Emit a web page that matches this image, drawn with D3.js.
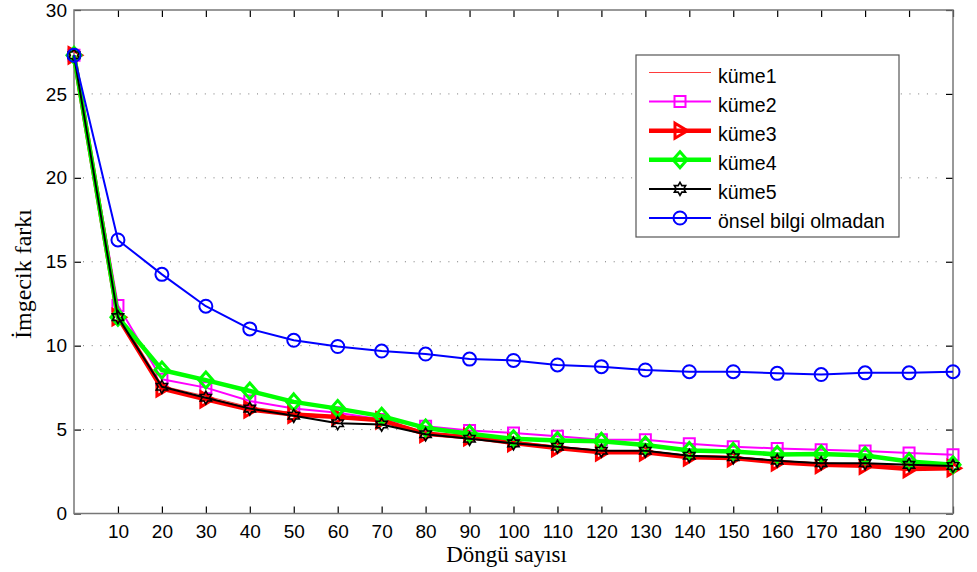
<!DOCTYPE html>
<html>
<head>
<meta charset="utf-8">
<script src="https://cdn.jsdelivr.net/npm/d3@7"></script>
<style>
  body { margin: 0; background: #fff; }
</style>
</head>
<body>
<div id="chart"></div>
<script>
const iterations = [0, 10, 20, 30, 40, 50, 60, 70, 80, 90, 100, 110, 120, 130, 140, 150, 160, 170, 180, 190, 200];
const xTicks = [10, 20, 30, 40, 50, 60, 70, 80, 90, 100, 110, 120, 130, 140, 150, 160, 170, 180, 190, 200];
const yTicks = [0, 5, 10, 15, 20, 25, 30];

const kume1 = [27.3, 11.8, 7.6, 7.0, 6.35, 6.0, 5.8, 5.6, 4.85, 4.6, 4.3, 4.0, 3.75, 3.75, 3.45, 3.4, 3.15, 3.0, 2.95, 2.8, 2.8];
const kume2 = [27.3, 12.4, 8.0, 7.5, 6.7, 6.25, 6.0, 5.6, 5.2, 4.95, 4.8, 4.6, 4.4, 4.4, 4.15, 3.98, 3.88, 3.8, 3.72, 3.6, 3.5];
const kume3 = [27.3, 11.7, 7.45, 6.8, 6.2, 5.9, 5.75, 5.55, 4.75, 4.55, 4.2, 3.9, 3.65, 3.65, 3.35, 3.3, 3.05, 2.9, 2.85, 2.65, 2.7];
const kume4 = [27.3, 11.7, 8.55, 7.95, 7.3, 6.65, 6.25, 5.8, 5.1, 4.75, 4.45, 4.35, 4.3, 4.08, 3.75, 3.7, 3.52, 3.55, 3.45, 3.1, 2.9];
const kume5 = [27.3, 11.7, 7.55, 6.9, 6.25, 5.82, 5.38, 5.3, 4.72, 4.45, 4.18, 3.98, 3.74, 3.74, 3.44, 3.35, 3.15, 3.0, 3.0, 2.9, 2.83];
const onselsiz = [27.3, 16.3, 14.25, 12.35, 11.0, 10.32, 9.95, 9.68, 9.5, 9.2, 9.12, 8.85, 8.75, 8.55, 8.45, 8.45, 8.35, 8.28, 8.38, 8.38, 8.45];

const seriesNames = ["küme1", "küme2", "küme3", "küme4", "küme5", "önsel bilgi olmadan"];
const seriesValues = [kume1, kume2, kume3, kume4, kume5, onselsiz];

// marker shapes, centred on 0,0
function hexagram(R) {
  const pts = [];
  for (let k = 0; k < 12; k++) {
    const r = k % 2 === 0 ? R : R / Math.sqrt(3);
    const a = -Math.PI / 2 + k * Math.PI / 6;
    pts.push([r * Math.cos(a), r * Math.sin(a)]);
  }
  return "M" + pts.map(p => p.join(",")).join("L") + "Z";
}
const markers = {
  none: null,
  square: "M-5.5,-5.5L5.5,-5.5L5.5,5.5L-5.5,5.5Z",
  triangle: "M-5,-7.5L7.5,0L-5,7.5Z",
  diamond: "M0,-8L7,0L0,8L-7,0Z",
  hexagram: hexagram(6.5),
  circle: "M6.5,0A6.5,6.5 0 1,1 -6.5,0A6.5,6.5 0 1,1 6.5,0Z"
};

const styles = [
  { color: "#ff3b3b", width: 1, marker: "none", mWidth: 1 },
  { color: "#ff00ff", width: 2, marker: "square", mWidth: 2 },
  { color: "#ff0000", width: 4.5, marker: "triangle", mWidth: 3 },
  { color: "#00ff00", width: 4.5, marker: "diamond", mWidth: 3 },
  { color: "#000000", width: 2, marker: "hexagram", mWidth: 1.6 },
  { color: "#0000ff", width: 2, marker: "circle", mWidth: 2 }
];

function MatlabPlot(id, {
  width = 977,
  height = 572,
  left = 74,
  right = 953,
  top = 10,
  bottom = 513.5,
  tickLen = 7,
  frameColor = "#777"
} = {}) {
  const xScale = d3.scaleLinear([0, 200], [left, right]);
  const yScale = d3.scaleLinear([0, 30], [bottom, top]);

  const svg = d3.select(id)
    .append("svg")
    .attr("width", width)
    .attr("height", height)
    .attr("viewBox", [0, 0, width, height])
    .style("font-family", "'Liberation Sans', Arial, sans-serif");

  svg.append("rect")
    .attr("width", width)
    .attr("height", height)
    .attr("fill", "#fff");

  // dotted grid
  svg.append("g")
    .selectAll("line")
    .data(yTicks.filter(v => v > 0 && v < 30))
    .join("line")
    .attr("x1", left + tickLen + 2)
    .attr("x2", right - tickLen - 2)
    .attr("y1", d => yScale(d))
    .attr("y2", d => yScale(d))
    .attr("stroke", "#777")
    .attr("stroke-width", 1)
    .attr("stroke-dasharray", "1,7.7");

  const xAxis = d3.axisBottom(xScale).tickValues(xTicks).tickSizeInner(-tickLen).tickSizeOuter(0).tickPadding(11);
  const xAxisTop = d3.axisTop(xScale).tickValues(xTicks).tickSizeInner(-tickLen).tickSizeOuter(0).tickFormat("");
  const yAxis = d3.axisLeft(yScale).tickValues(yTicks).tickSizeInner(-tickLen).tickSizeOuter(0).tickPadding(7);
  const yAxisRight = d3.axisRight(yScale).tickValues(yTicks).tickSizeInner(-tickLen).tickSizeOuter(0).tickFormat("");

  const styleAxis = g => {
    g.select(".domain").remove();
    g.selectAll(".tick line").attr("stroke", "#000").attr("stroke-width", 1.2);
    g.selectAll(".tick text").attr("fill", "#000").style("font-size", "19px");
  };

  svg.append("g").attr("transform", `translate(0,${bottom})`).call(xAxis).call(styleAxis);
  svg.append("g").attr("transform", `translate(0,${top})`).call(xAxisTop).call(styleAxis);
  svg.append("g").attr("transform", `translate(${left},0)`).call(yAxis).call(styleAxis);
  svg.append("g").attr("transform", `translate(${right},0)`).call(yAxisRight).call(styleAxis);

  svg.append("rect")
    .attr("x", left)
    .attr("y", top)
    .attr("width", right - left)
    .attr("height", bottom - top)
    .attr("fill", "none")
    .attr("stroke", frameColor)
    .attr("stroke-width", 1.5);

  const line = d3.line()
    .x((d, i) => xScale(iterations[i]))
    .y(d => yScale(d));

  seriesValues.forEach((vals, s) => {
    const st = styles[s];
    const g = svg.append("g");
    g.append("path")
      .attr("d", line(vals))
      .attr("fill", "none")
      .attr("stroke", st.color)
      .attr("stroke-width", st.width)
      .attr("stroke-linejoin", "round");
    if (markers[st.marker]) {
      g.selectAll(".m")
        .data(vals)
        .join("path")
        .attr("class", "m")
        .attr("transform", (d, i) => `translate(${xScale(iterations[i])},${yScale(d)})`)
        .attr("d", markers[st.marker])
        .attr("fill", "none")
        .attr("stroke", st.color)
        .attr("stroke-width", st.mWidth);
    }
  });

  // legend
  const lg = svg.append("g").attr("transform", "translate(636,55)");
  lg.append("rect")
    .attr("width", 263)
    .attr("height", 182)
    .attr("fill", "#fff")
    .attr("stroke", "#555")
    .attr("stroke-width", 1.2);
  seriesNames.forEach((name, s) => {
    const st = styles[s];
    const yy = 17.5 + s * 29.1;
    lg.append("line")
      .attr("x1", 13).attr("x2", 75)
      .attr("y1", yy).attr("y2", yy)
      .attr("stroke", st.color)
      .attr("stroke-width", st.width);
    if (markers[st.marker]) {
      lg.append("path")
        .attr("transform", `translate(44,${yy})`)
        .attr("d", markers[st.marker])
        .attr("fill", "none")
        .attr("stroke", st.color)
        .attr("stroke-width", st.mWidth);
    }
    lg.append("text")
      .attr("x", 82)
      .attr("y", yy + 10)
      .style("font-size", "19.5px")
      .attr("fill", "#000")
      .text(name);
  });

  svg.append("text")
    .attr("x", (left + right) / 2 - 7)
    .attr("y", 562)
    .attr("text-anchor", "middle")
    .style("font-family", "'Liberation Serif', 'Times New Roman', serif")
    .style("font-size", "23px")
    .text("Döngü sayısı");

  svg.append("text")
    .attr("transform", `translate(31,274) rotate(-90)`)
    .attr("text-anchor", "middle")
    .style("font-family", "'Liberation Serif', 'Times New Roman', serif")
    .style("font-size", "24px")
    .text("İmgecik farkı");

  return svg;
}

MatlabPlot("#chart");
</script>
</body>
</html>
